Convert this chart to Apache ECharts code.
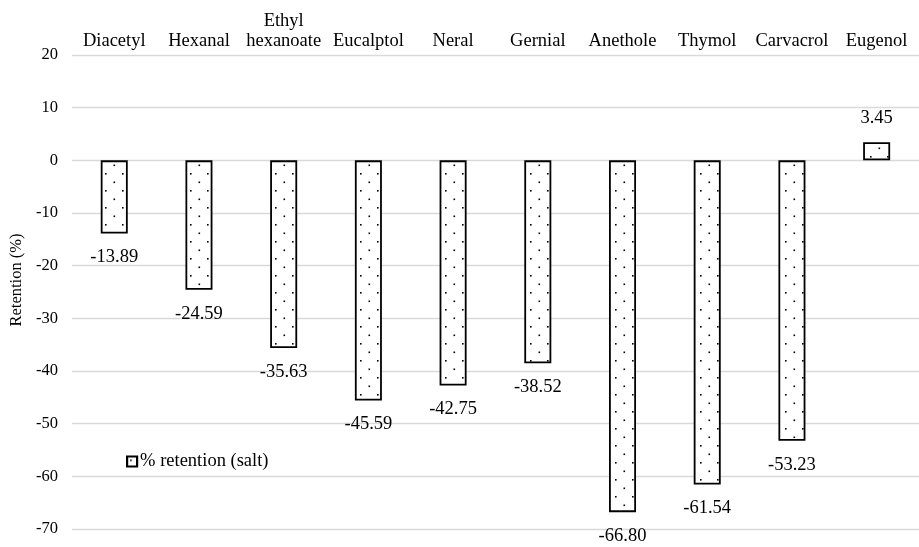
<!DOCTYPE html>
<html>
<head>
<meta charset="utf-8">
<script src="https://cdn.jsdelivr.net/npm/echarts@6/dist/echarts.min.js"></script>
<style>
  html, body { margin: 0; padding: 0; background: #fff; }
  #chart { width: 919px; height: 547px; }
</style>
</head>
<body>
<div id="chart"></div>
<script>
// Compounds along the top axis
const compounds = ['Diacetyl', 'Hexanal', 'Ethyl\nhexanoate', 'Eucalptol', 'Neral',
                   'Gernial', 'Anethole', 'Thymol', 'Carvacrol', 'Eugenol'];
// Retention change in salted samples (%)
const retentionSalt = [-13.89, -24.59, -35.63, -45.59, -42.75, -38.52, -66.80, -61.54, -53.23, 3.45];
// Value axis range and step
const yMin = -70;
const yMax = 20;
const yStep = 10;

const FONT = '"Liberation Serif", "Times New Roman", serif';

// Small dotted tile used as the bar fill
function dotTile() {
  const c = document.createElement('canvas');
  c.width = 17; c.height = 17;
  const g = c.getContext('2d');
  g.fillStyle = '#ffffff';
  g.fillRect(0, 0, 17, 17);
  g.fillStyle = '#000000';
  g.fillRect(3, 3, 1.6, 1.6);
  g.fillRect(11.5, 11.5, 1.6, 1.6);
  return c;
}
const dotted = { image: dotTile(), repeat: 'repeat' };

const chart = echarts.init(document.getElementById('chart'), null, { renderer: 'canvas' });

chart.setOption({
  backgroundColor: '#ffffff',
  animation: false,
  textStyle: { fontFamily: FONT, color: '#000' },
  grid: { left: 71, right: -8, top: 55, bottom: 18, containLabel: false },
  legend: {
    left: 121, top: 447,
    itemWidth: 10, itemHeight: 10, itemGap: 10,
    icon: 'rect',
    itemStyle: { borderWidth: 2.2, borderColor: '#000' },
    textStyle: { fontFamily: FONT, fontSize: 18.5, color: '#000', padding: [0, 0, 0, -2] },
    data: ['% retention (salt)']
  },
  xAxis: {
    type: 'category',
    position: 'top',
    data: compounds,
    axisLine: { show: false },
    axisTick: { show: false },
    axisLabel: { fontFamily: FONT, fontSize: 18.5, color: '#000', margin: 4, lineHeight: 20, interval: 0 }
  },
  yAxis: {
    type: 'value',
    min: yMin, max: yMax, interval: yStep,
    name: 'Retention (%)',
    nameLocation: 'middle',
    nameGap: 35,
    nameTextStyle: { fontFamily: FONT, fontSize: 16.5, color: '#000', padding: [0, 0, 0, 24] },
    axisLine: { show: false },
    axisTick: { show: false },
    axisLabel: { fontFamily: FONT, fontSize: 16.5, color: '#000', margin: 14 },
    splitLine: { lineStyle: { color: '#d9d9d9', width: 1.3 } }
  },
  series: [{
    name: '% retention (salt)',
    type: 'bar',
    barWidth: 27,
    data: retentionSalt.map(v => ({
      value: v,
      label: { position: v < 0 ? 'bottom' : 'top' }
    })),
    itemStyle: { color: dotted, borderColor: '#000', borderWidth: 1.8 },
    label: {
      show: true,
      distance: 14.5,
      fontFamily: FONT, fontSize: 18.5, color: '#000',
      formatter: p => p.value.toFixed(2)
    }
  }]
});
</script>
</body>
</html>
